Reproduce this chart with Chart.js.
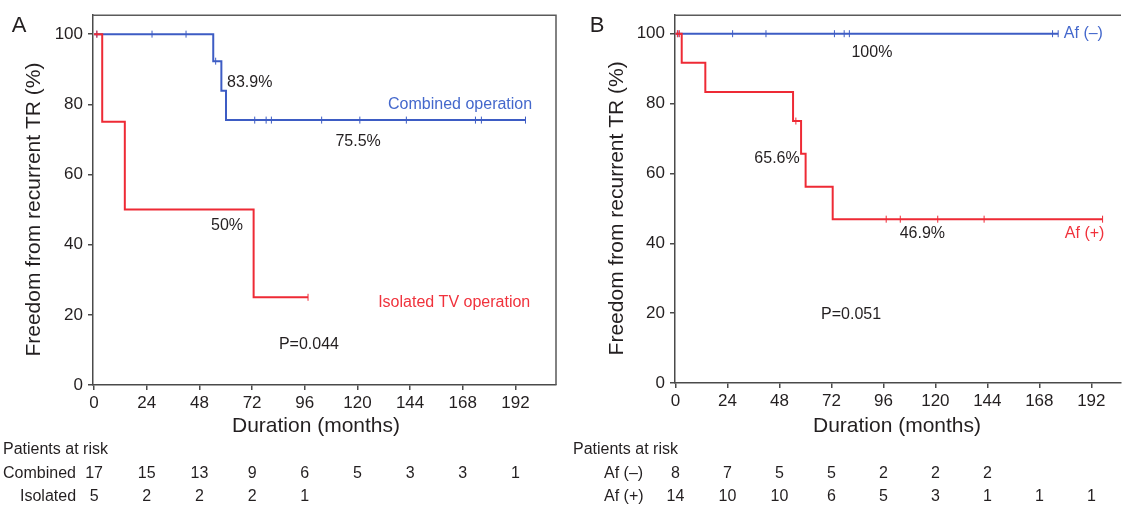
<!DOCTYPE html>
<html>
<head>
<meta charset="utf-8">
<script src="https://cdn.jsdelivr.net/npm/chart.js@4.4.1/dist/chart.umd.min.js"></script>
<style>
  html, body { margin: 0; padding: 0; background: #fff; }
  #wrap { position: relative; width: 1126px; height: 506px; background: #fff; overflow: hidden; }
  canvas { position: absolute; top: 0; }
</style>
</head>
<body>
<div id="wrap">
  <canvas id="cA" width="563" height="506" style="left:0"></canvas>
  <canvas id="cB" width="563" height="506" style="left:563px"></canvas>
</div>
<script>
// ---------------- DATA ----------------
const xTicks = [0, 24, 48, 72, 96, 120, 144, 168, 192];
const yTicks = [0, 20, 40, 60, 80, 100];

// Panel A : Combined operation (blue)
const combinedT = [0, 54.3, 58.0, 60.1, 196.6];
const combinedS = [100, 92.3, 83.9, 75.5, 75.5];
const combinedCensorT = [1.2, 26.4, 41.9, 55.4, 73.2, 78.4, 80.8, 103.7, 121.1, 142.3, 173.8, 176.5, 196.6];
const combinedCensorS = [100, 100, 100, 92.3, 75.5, 75.5, 75.5, 75.5, 75.5, 75.5, 75.5, 75.5, 75.5];

// Panel A : Isolated TV operation (red)
const isolatedT = [0, 3.7, 14.0, 72.7, 97.5];
const isolatedS = [100, 75, 50, 25, 25];
const isolatedCensorT = [1.3, 97.5];
const isolatedCensorS = [100, 25];

// Panel B : Af (-) (blue)
const afNegT = [0, 176.7];
const afNegS = [100, 100];
const afNegCensorT = [1.2, 26.4, 41.8, 73.4, 77.9, 80.3, 174.1, 176.7];
const afNegCensorS = [100, 100, 100, 100, 100, 100, 100, 100];

// Panel B : Af (+) (red)
const afPosT = [0, 2.9, 13.8, 54.3, 58.0, 60.1, 72.6, 197.2];
const afPosS = [100, 91.7, 83.3, 75.0, 65.6, 56.2, 46.9, 46.9];
const afPosCensorT = [0.9, 1.8, 55.6, 97.3, 103.8, 121.1, 142.5, 197.2];
const afPosCensorS = [100, 100, 75.0, 46.9, 46.9, 46.9, 46.9, 46.9];

// Patients at risk
const riskCombined = [17, 15, 13, 9, 6, 5, 3, 3, 1];
const riskIsolated = [5, 2, 2, 2, 1];
const riskAfNeg = [8, 7, 5, 5, 2, 2, 2];
const riskAfPos = [14, 10, 10, 6, 5, 3, 1, 1, 1];

// ---------------- STYLE ----------------
const FONT = '"Liberation Sans", Arial, Helvetica, sans-serif';
const TEXT = '#231f20';
const AXIS = '#4a4a4a';
const BLUE = '#3d5cc4';
const BLUE_TXT = '#4468cc';
const RED = '#ee2a35';
const RED_TXT = '#f0323c';

const toXY = (ts, ss) => ts.map((t, i) => ({ x: t, y: ss[i] }));

const panelPlugin = {
  id: 'panelPlugin',
  afterDraw(chart, args, o) {
    const { ctx, chartArea: ca, scales: { x, y } } = chart;
    ctx.save();
    // top (and right) frame
    ctx.strokeStyle = '#5a5a5a';
    ctx.lineWidth = 1.5;
    ctx.beginPath();
    ctx.moveTo(ca.left, ca.top);
    ctx.lineTo(ca.right, ca.top);
    if (o.rightBorder) ctx.lineTo(ca.right, ca.bottom);
    ctx.stroke();

    ctx.textBaseline = 'middle';
    // annotations in data coordinates
    o.notes.forEach(n => {
      ctx.font = `16px ${FONT}`;
      ctx.fillStyle = n.color || TEXT;
      ctx.textAlign = n.align || 'center';
      ctx.fillText(n.text, x.getPixelForValue(n.x), y.getPixelForValue(n.y));
    });

    // panel letter
    ctx.font = `22px ${FONT}`;
    ctx.fillStyle = TEXT;
    ctx.textAlign = 'center';
    ctx.fillText(o.letter, o.letterX, 26);

    // axis titles
    ctx.font = `21px ${FONT}`;
    ctx.fillText('Duration (months)', o.xTitleX, 426);
    ctx.save();
    ctx.translate(o.yTitleX, y.getPixelForValue(50));
    ctx.rotate(-Math.PI / 2);
    ctx.fillText('Freedom from recurrent TR (%)', 0, 0);
    ctx.restore();

    // risk table
    ctx.font = `16px ${FONT}`;
    ctx.textAlign = 'left';
    ctx.fillText('Patients at risk', o.riskTitleX, 450);
    o.rows.forEach((r, ri) => {
      const yy = 474 + ri * 23;
      ctx.textAlign = 'left';
      ctx.fillText(r.label, r.labelX, yy);
      ctx.textAlign = 'center';
      r.values.forEach((v, i) => {
        ctx.fillText(String(v), x.getPixelForValue(xTicks[i]), yy);
      });
    });
    ctx.restore();
  }
};

function makePanel(id, p) {
  const datasets = [];
  p.series.forEach(s => {
    datasets.push({
      type: 'line', data: toXY(s.t, s.s), stepped: 'before',
      borderColor: s.color, borderWidth: 2, pointRadius: 0, fill: false, tension: 0
    });
    datasets.push({
      type: 'scatter', data: toXY(s.ct, s.cs), pointStyle: 'line', rotation: 90,
      pointRadius: 3.5, borderColor: s.color, backgroundColor: s.color, borderWidth: 1, showLine: false
    });
  });
  return new Chart(document.getElementById(id), {
    data: { datasets },
    options: {
      responsive: false, maintainAspectRatio: false, animation: false,
      devicePixelRatio: 1,
      layout: { padding: p.padding },
      plugins: { legend: { display: false }, tooltip: { enabled: false }, panelPlugin: p.plugin },
      scales: {
        x: {
          type: 'linear', min: p.xMin, max: p.xMax,
          afterBuildTicks: s => { s.ticks = xTicks.map(v => ({ value: v })); },
          afterFit: s => { s.height = p.xHeight; },
          ticks: { font: { family: FONT, size: 17 }, color: TEXT, padding: 3, maxRotation: 0, autoSkip: false },
          grid: { display: true, drawOnChartArea: false, drawTicks: true, tickLength: 5, color: AXIS, lineWidth: 1.5 },
          border: { display: true, color: AXIS, width: 1.5 }
        },
        y: {
          type: 'linear', min: 0, max: p.yMax,
          afterBuildTicks: s => { s.ticks = yTicks.map(v => ({ value: v })); },
          afterFit: s => { s.width = p.yWidth; },
          ticks: { font: { family: FONT, size: 17 }, color: TEXT, padding: 5 },
          grid: { display: true, drawOnChartArea: false, drawTicks: true, tickLength: 5, color: AXIS, lineWidth: 1.5 },
          border: { display: true, color: AXIS, width: 1.5 }
        }
      }
    },
    plugins: [panelPlugin]
  });
}

makePanel('cA', {
  padding: { left: 0, top: 13, right: 7, bottom: 0 },
  xMin: -0.5, xMax: 210.5, yMax: 105.4, xHeight: 121, yWidth: 93,
  series: [
    { t: isolatedT, s: isolatedS, ct: isolatedCensorT, cs: isolatedCensorS, color: RED },
    { t: combinedT, s: combinedS, ct: combinedCensorT, cs: combinedCensorS, color: BLUE }
  ],
  plugin: {
    rightBorder: true, letter: 'A', letterX: 19, xTitleX: 316, yTitleX: 34, riskTitleX: 3,
    notes: [
      { text: '83.9%', x: 60.6, y: 86.2, align: 'left' },
      { text: 'Combined operation', x: 166.8, y: 80, color: BLUE_TXT },
      { text: '75.5%', x: 120.3, y: 69.5 },
      { text: '50%', x: 60.6, y: 45.4 },
      { text: 'Isolated TV operation', x: 164.1, y: 23.5, color: RED_TXT },
      { text: 'P=0.044', x: 97.9, y: 11.6 }
    ],
    rows: [
      { label: 'Combined', labelX: 3, values: riskCombined },
      { label: 'Isolated', labelX: 20, values: riskIsolated }
    ]
  }
});

makePanel('cB', {
  padding: { left: 0, top: 14, right: 0, bottom: 0 },
  xMin: -0.2, xMax: 205.7, yMax: 105.3, xHeight: 123, yWidth: 112,
  series: [
    { t: afPosT, s: afPosS, ct: afPosCensorT, cs: afPosCensorS, color: RED },
    { t: afNegT, s: afNegS, ct: afNegCensorT, cs: afNegCensorS, color: BLUE }
  ],
  plugin: {
    rightBorder: false, letter: 'B', letterX: 34, xTitleX: 334, yTitleX: 54, riskTitleX: 10,
    notes: [
      { text: 'Af (–)', x: 179.3, y: 100, align: 'left', color: BLUE_TXT },
      { text: '100%', x: 90.7, y: 94.7 },
      { text: '65.6%', x: 46.9, y: 64.3 },
      { text: '46.9%', x: 114, y: 42.8 },
      { text: 'Af (+)', x: 188.9, y: 42.8, color: RED_TXT },
      { text: 'P=0.051', x: 81.1, y: 19.7 }
    ],
    rows: [
      { label: 'Af (–)', labelX: 41, values: riskAfNeg },
      { label: 'Af (+)', labelX: 41, values: riskAfPos }
    ]
  }
});
</script>
</body>
</html>
